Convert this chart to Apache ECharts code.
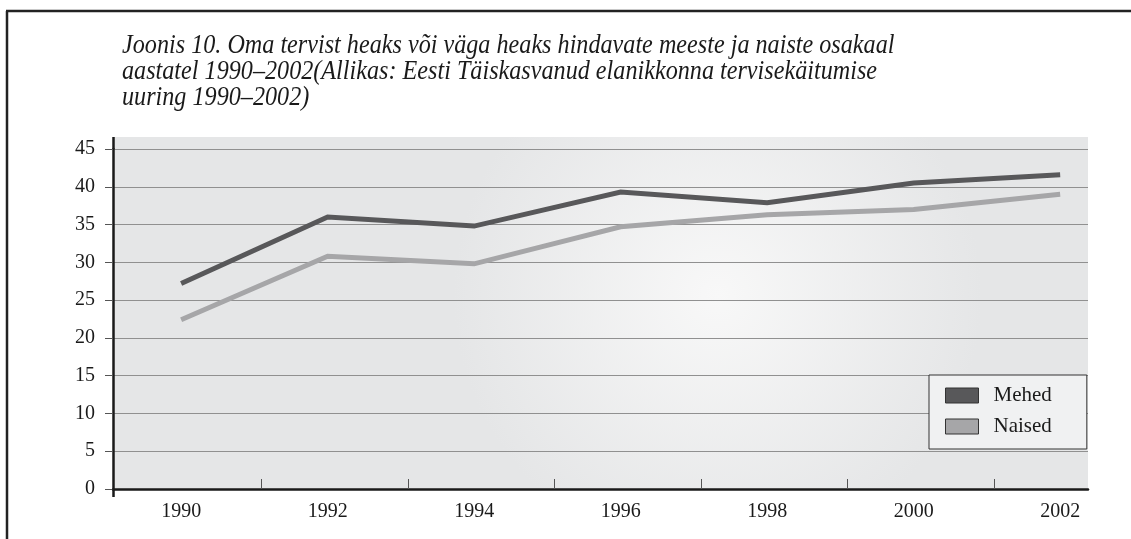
<!DOCTYPE html>
<html>
<head>
<meta charset="utf-8">
<script src="https://cdn.jsdelivr.net/npm/echarts@6/dist/echarts.min.js"></script>
<style>
  html, body { margin: 0; padding: 0; background: #fff; }
  #chart { width: 1131px; height: 539px; }
</style>
</head>
<body>
<div id="chart"></div>
<script>
// andmed (loetud jooniselt)
const years = [1990, 1992, 1994, 1996, 1998, 2000, 2002]
const mehed = [27.2, 36.0, 34.8, 39.3, 37.9, 40.5, 41.6]
const naised = [22.4, 30.8, 29.8, 34.7, 36.3, 37.0, 39.0]
const tickYears = [1991.1, 1993.1, 1995.1, 1997.1, 1999.1, 2001.1]
const seriesNames = ['Mehed', 'Naised']
const titleText = 'Joonis 10. Oma tervist heaks või väga heaks hindavate meeste ja naiste osakaal\naastatel 1990–2002(Allikas: Eesti Täiskasvanud elanikkonna tervisekäitumise\nuuring 1990–2002)'

const xMin = 1989.07
const xMax = 2002.38
const serif = '"Liberation Serif", "Times New Roman", serif'

let myChart = echarts.init(document.getElementById('chart'))

var option = {
  animation: false,
  legend: {
    orient: 'vertical',
    left: 929,
    top: 375,
    data: [
      { name: 'Mehed', icon: 'rect' },
      { name: 'Naised', icon: 'rect' }
    ],
    itemWidth: 33,
    itemHeight: 15,
    itemGap: 10,
    padding: [10, 35, 12, 16],
    backgroundColor: '#f0f1f2',
    borderColor: '#333',
    borderWidth: 1,
    borderRadius: 0,
    itemStyle: { borderColor: '#333', borderWidth: 1 },
    textStyle: { fontFamily: serif, fontSize: 21, color: '#1a1a1a', padding: [0, 0, 0, 10] }
  },
  grid: {
    left: 113,
    right: 43,
    top: 149,
    bottom: 50,
    containLabel: false
  },
  graphic: [
    // pealkiri, veidi kitsendatud
    {
      type: 'text',
      x: 122,
      y: 33,
      scaleX: 0.895,
      style: {
        text: titleText,
        font: 'italic 27px ' + serif,
        lineHeight: 26,
        fill: '#1a1a1a'
      }
    },
    // taust
    {
      type: 'rect',
      z: -1,
      shape: { x: 113, y: 137, width: 975, height: 352 },
      style: {
        fill: new echarts.graphic.RadialGradient(0.62, 0.45, 0.75, [
          { offset: 0, color: '#f8f8f8' },
          { offset: 1, color: '#e5e6e7' }
        ])
      }
    },
    // y-telje ülemine jätk
    { type: 'line', shape: { x1: 113.5, y1: 137, x2: 113.5, y2: 150 }, style: { stroke: '#1a1a1a', lineWidth: 2.5 } },
    // raam
    { type: 'line', shape: { x1: 6, y1: 11, x2: 1131, y2: 11 }, style: { stroke: '#222', lineWidth: 2.5 } },
    { type: 'line', shape: { x1: 7, y1: 11, x2: 7, y2: 539 }, style: { stroke: '#222', lineWidth: 2.5 } }
  ],
  xAxis: [
    {
      type: 'value',
      min: xMin,
      max: xMax,
      axisLine: { show: true, onZero: false, lineStyle: { color: '#1a1a1a', width: 2.5 } },
      axisTick: { show: true, inside: true, length: 10, customValues: tickYears, lineStyle: { color: '#555', width: 1 } },
      axisLabel: {
        customValues: years,
        formatter: function (v) { return String(Math.round(v)) },
        fontFamily: serif,
        fontSize: 20,
        color: '#1a1a1a',
        margin: 13
      },
      splitLine: { show: false }
    },
    {
      // vasak alumine tikk
      type: 'value',
      min: xMin,
      max: xMax,
      position: 'bottom',
      axisLine: { show: false },
      axisTick: { show: true, length: 8, customValues: [xMin], lineStyle: { color: '#1a1a1a', width: 2.5 } },
      axisLabel: { show: false },
      splitLine: { show: false }
    }
  ],
  yAxis: {
    type: 'value',
    min: 0,
    max: 45,
    interval: 5,
    axisLine: { show: true, lineStyle: { color: '#1a1a1a', width: 2.5 } },
    axisTick: { show: true, length: 8, lineStyle: { color: '#555', width: 1 } },
    axisLabel: { fontFamily: serif, fontSize: 20, color: '#1a1a1a', margin: 18 },
    splitLine: { show: true, lineStyle: { color: '#909090', width: 1.2 } }
  },
  series: [
    {
      name: seriesNames[0],
      type: 'line',
      data: years.map((y, i) => [y, mehed[i]]),
      symbol: 'none',
      color: '#58585a',
      lineStyle: { width: 5, cap: 'butt', join: 'miter' }
    },
    {
      name: seriesNames[1],
      type: 'line',
      data: years.map((y, i) => [y, naised[i]]),
      symbol: 'none',
      color: '#a6a6a8',
      lineStyle: { width: 5, cap: 'butt', join: 'miter' }
    }
  ]
}

window.onresize = myChart.resize
myChart.setOption(option)
</script>
</body>
</html>
